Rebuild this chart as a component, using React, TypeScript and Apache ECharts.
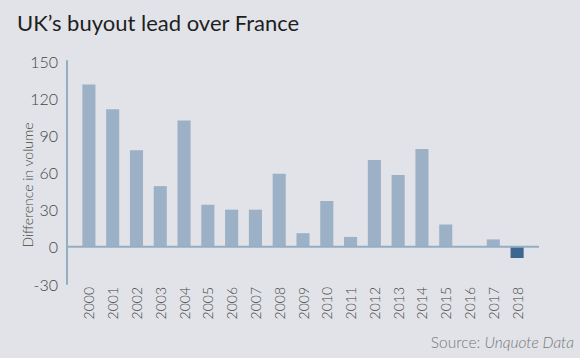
import React, { useEffect, useRef } from "react";
import * as echarts from "echarts";

const years = ["2000","2001","2002","2003","2004","2005","2006","2007","2008","2009","2010","2011","2012","2013","2014","2015","2016","2017","2018"];
const values = [131, 111, 78, 49, 102, 34, 30, 30, 59, 11, 37, 8, 70, 58, 79, 18, 0.5, 6, -9];
const yTicks = { min: -30, max: 150, interval: 30 };

const FONT = "Lato, 'Noto Sans', sans-serif";
const BG = "#e1e3e8";
const BAR = "#9cb1c6";
const NEG = "#3b6790";
const AXIS = "#93aec3";

const GRID_LEFT = 77;
const GRID_RIGHT = 51;
const GRID_TOP = 61;
const GRID_BOTTOM = 74;
const EXT = 10;

export default function App() {
  const ref = useRef<HTMLDivElement>(null);
  useEffect(() => {
    document.body.style.margin = "0";
    const chart = echarts.init(ref.current!, null, { renderer: "svg" });
    chart.setOption({
      animation: false,
      backgroundColor: BG,
      title: {
        text: "UK\u2019s buyout lead over France",
        left: 12,
        top: 6,
        textStyle: { fontFamily: FONT, fontSize: 22, fontWeight: "normal", color: "#1e1e1e" },
      },
      grid: { left: GRID_LEFT, right: GRID_RIGHT, top: GRID_TOP, bottom: GRID_BOTTOM },
      xAxis: {
        type: "category",
        data: years,
        axisLine: { show: false, onZero: false },
        axisTick: { show: false },
        axisLabel: {
          rotate: 90,
          margin: 3,
          fontFamily: FONT,
          fontSize: 14,
          fontWeight: 300,
          color: "#444",
        },
      },
      yAxis: {
        type: "value",
        min: yTicks.min,
        max: yTicks.max,
        interval: yTicks.interval,
        offset: EXT,
        axisLine: { show: true, lineStyle: { color: AXIS, width: 2 } },
        axisTick: { show: false },
        splitLine: { show: false },
        axisLabel: {
          margin: 9,
          fontFamily: FONT,
          fontSize: 16,
          fontWeight: 300,
          color: "#444",
        },
      },
      series: [
        {
          type: "bar",
          barWidth: "55%",
          data: values.map((v) => (v < 0 ? { value: v, itemStyle: { color: NEG } } : v)),
          itemStyle: { color: BAR },
        },
      ],
    });
    const zeroY = chart.convertToPixel({ yAxisIndex: 0 }, 0) as number;
    const W = 580;
    chart.setOption({
      graphic: [
        {
          type: "line",
          z: 10,
          shape: { x1: GRID_LEFT - EXT, y1: zeroY, x2: W - GRID_RIGHT + EXT, y2: zeroY },
          style: { stroke: AXIS, lineWidth: 2 },
        },
        {
          type: "text",
          x: 27,
          y: 185,
          rotation: Math.PI / 2,
          style: {
            text: "Difference in volume",
            fontFamily: FONT,
            fontSize: 14,
            fontWeight: 300,
            fill: "#444",
            align: "center",
            verticalAlign: "middle",
          },
        },
        {
          type: "text",
          x: 574,
          y: 342,
          style: {
            text: "{a|Source: }{b|Unquote Data}",
            align: "right",
            verticalAlign: "middle",
            rich: {
              a: { fontFamily: FONT, fontSize: 15.5, fontWeight: 300, fill: "#777", color: "#777" },
              b: { fontFamily: FONT, fontSize: 15.5, fontWeight: 300, fontStyle: "italic", fill: "#777", color: "#777" },
            },
          },
        },
      ],
    });
    return () => chart.dispose();
  }, []);
  return <div ref={ref} style={{ width: 580, height: 358 }} />;
}
